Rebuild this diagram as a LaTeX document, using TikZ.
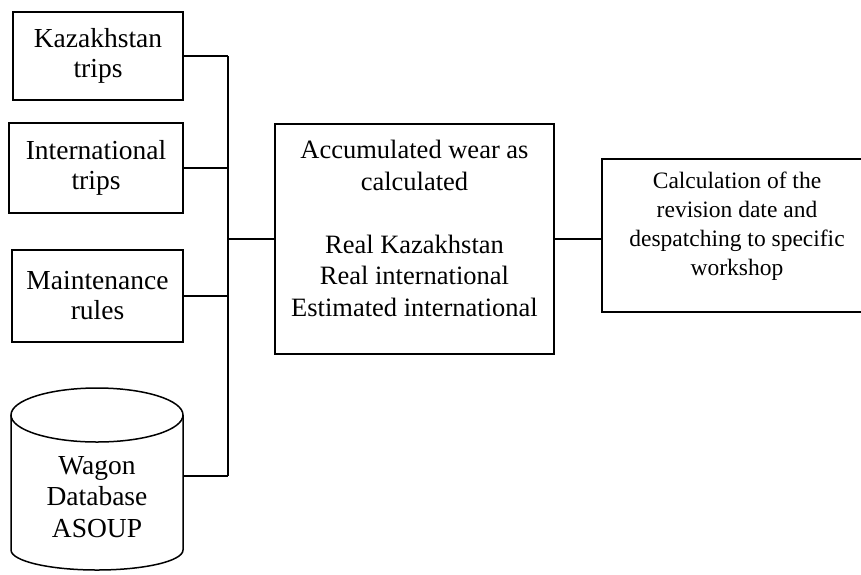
\documentclass[tikz,border=0pt]{standalone}
\usepackage{fontspec}
\setmainfont{Liberation Serif}
\begin{document}
\begin{tikzpicture}[x=1pt,y=-1pt,
  every node/.style={inner sep=0pt, outer sep=0pt},
  txt/.style={align=center, font=\fontsize{27.5}{30}\selectfont},
  box/.style={draw, line width=1.5pt, txt},
  ln/.style={line width=1.5pt}]
\useasboundingbox (0,0) rectangle (861,574);
\clip (0,0) rectangle (861,574);
% left boxes
\node[box, minimum width=170, minimum height=88] (kaz) at (98,56) {Kazakhstan\\trips};
\node[box, minimum width=174, minimum height=90] (intl) at (96,168) {International\\trips};
\node[box, minimum width=171, minimum height=92] (maint) at (97.5,296) {Maintenance\\rules};
% database cylinder
\draw[ln] (11,415) -- (11,550) arc[start angle=180, end angle=0, x radius=86, y radius=20] -- (183,415);
\draw[ln] (97,415) ellipse[x radius=86, y radius=27];
\node[minimum width=172, minimum height=120] (db) at (97,476) {};
\node[txt, font=\fontsize{27.5}{31.5}\selectfont] (dbt) at (97,497) {Wagon\\Database\\ASOUP};
% main box
\node[box, minimum width=279, minimum height=230] (main) at (414.5,239) {};
\node[txt, font=\fontsize{26.5}{31.5}\selectfont] (maint2) at (414.5,228.5) {Accumulated wear as\\calculated\\[31.5pt]Real Kazakhstan\\Real international\\Estimated international};
% right box
\node[draw, line width=1.5pt, minimum width=270, minimum height=153] (calc) at (737,235.5) {};
\node[txt, font=\fontsize{23.5}{29}\selectfont] (calct) at (737,226) {Calculation of the\\revision date and\\despatching to specific\\workshop};
% connectors
\coordinate (trk) at (228,0);
\draw[ln] (kaz.east) -- (kaz.east -| trk);
\draw[ln] (intl.east) -- (intl.east -| trk);
\draw[ln] (maint.east) -- (maint.east -| trk);
\draw[ln] (db.east) -- (db.east -| trk);
\draw[ln] (kaz.east -| trk) -- (db.east -| trk);
\draw[ln] (main.west -| trk) -- (main.west);
\draw[ln] (main.east) -- (main.east -| calc.west);
\end{tikzpicture}
\end{document}
